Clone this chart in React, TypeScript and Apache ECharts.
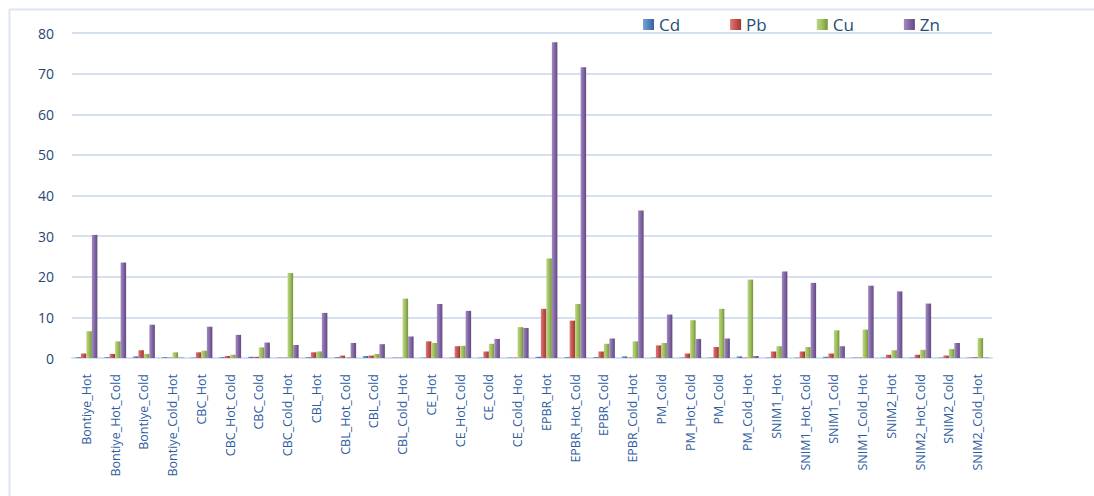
import React, { useEffect, useRef } from "react";
import * as echarts from "echarts";

const categories = [
  "Bontiye_Hot", "Bontiye_Hot_Cold", "Bontiye_Cold", "Bontiye_Cold_Hot",
  "CBC_Hot", "CBC_Hot_Cold", "CBC_Cold", "CBC_Cold_Hot",
  "CBL_Hot", "CBL_Hot_Cold", "CBL_Cold", "CBL_Cold_Hot",
  "CE_Hot", "CE_Hot_Cold", "CE_Cold", "CE_Cold_Hot",
  "EPBR_Hot", "EPBR_Hot_Cold", "EPBR_Cold", "EPBR_Cold_Hot",
  "PM_Cold", "PM_Hot_Cold", "PM_Cold", "PM_Cold_Hot",
  "SNIM1_Hot", "SNIM1_Hot_Cold", "SNIM1_Cold", "SNIM1_Cold_Hot",
  "SNIM2_Hot", "SNIM2_Hot_Cold", "SNIM2_Cold", "SNIM2_Cold_Hot",
];

const cd = [
  0.2, 0.2, 0.4, 0.2,
  0.1, 0.2, 0.3, 0.1,
  0.2, 0.2, 0.5, 0.1,
  0.1, 0.1, 0.1, 0.1,
  0.3, 0.2, 0.2, 0.4,
  0.1, 0.1, 0.1, 0.4,
  0.1, 0.1, 0.3, 0.1,
  0.1, 0.1, 0.1, 0.1,
];
const pb = [
  1.1, 1.0, 1.9, 0.1,
  1.4, 0.5, 0.3, 0.1,
  1.4, 0.6, 0.6, 0.1,
  4.1, 2.9, 1.6, 0.1,
  12.1, 9.2, 1.6, 0.1,
  3.1, 1.1, 2.7, 0.1,
  1.6, 1.6, 1.1, 0.1,
  0.8, 0.8, 0.6, 0.2,
];
const cu = [
  6.6, 4.1, 1.0, 1.4,
  1.8, 0.8, 2.6, 20.9,
  1.6, 0.2, 1.0, 14.6,
  3.7, 3.0, 3.5, 7.6,
  24.5, 13.3, 3.5, 4.1,
  3.7, 9.3, 12.1, 19.3,
  2.9, 2.7, 6.8, 7.0,
  1.9, 2.0, 2.2, 4.9,
];
const zn = [
  30.3, 23.5, 8.2, 0.1,
  7.7, 5.7, 3.8, 3.2,
  11.1, 3.7, 3.4, 5.3,
  13.3, 11.6, 4.7, 7.4,
  77.7, 71.6, 4.8, 36.3,
  10.7, 4.7, 4.8, 0.5,
  21.3, 18.5, 2.9, 17.8,
  16.4, 13.4, 3.7, 0.1,
];

const seriesNames = ["Cd", "Pb", "Cu", "Zn"];
const seriesData = [cd, pb, cu, zn];
const baseColors = ["#4F81BD", "#C0504D", "#9BBB59", "#8064A2"];
const lightColors = ["#7DA3D6", "#DB7B78", "#BBD684", "#A28BC2"];
const darkColors = ["#3A6399", "#9A3A37", "#76923F", "#5F4A7D"];

export default function App() {
  const ref = useRef<HTMLDivElement>(null);

  useEffect(() => {
    if (!ref.current) return;
    const chart = echarts.init(ref.current, undefined, { renderer: "svg" });
    const textColor = "#1F4E79";
    chart.setOption({
      animation: false,
      backgroundColor: "#ffffff",
      graphic: [
        {
          type: "rect",
          left: 7,
          top: 7,
          shape: { x: 0, y: 0, width: 1100, height: 500 },
          style: { fill: "none", stroke: "#DCE6F2", lineWidth: 2 },
          silent: true,
        },
      ],
      legend: {
        left: 638,
        top: 11,
        icon: "rect",
        itemWidth: 11,
        itemHeight: 11,
        itemGap: 50,
        textStyle: { fontSize: 17, color: textColor, fontFamily: "Open Sans" },
        data: seriesNames,
      },
      grid: { left: 72, right: 102, top: 33, bottom: 138, containLabel: false },
      xAxis: {
        type: "category",
        data: categories,
        axisLine: { show: true, lineStyle: { color: "#D5E1F0", width: 2 } },
        axisTick: { show: false },
        axisLabel: {
          rotate: 90,
          interval: 0,
          margin: 16,
          fontSize: 12.5,
          color: "#2E5C9E",
          fontFamily: "Open Sans",
        },
      },
      yAxis: {
        type: "value",
        min: 0,
        max: 80,
        interval: 10,
        axisLine: { show: false },
        axisTick: { show: false },
        axisLabel: {
          margin: 18,
          fontSize: 14,
          color: "#2A4675",
          fontFamily: "Open Sans",
        },
        splitLine: { lineStyle: { color: "#D5E1F0", width: 2 } },
      },
      series: seriesNames.map((name, i) => ({
        name,
        type: "bar",
        data: seriesData[i],
        barWidth: 5.5,
        barGap: "0%",
        itemStyle: {
          color: new echarts.graphic.LinearGradient(0, 0, 1, 0, [
            { offset: 0, color: lightColors[i] },
            { offset: 0.55, color: baseColors[i] },
            { offset: 1, color: darkColors[i] },
          ]),
        },
      })),
      color: baseColors,
    });
    return () => chart.dispose();
  }, []);

  return (
    <div
      ref={ref}
      style={{ position: "fixed", left: 0, top: 0, width: 1094, height: 496 }}
    />
  );
}
